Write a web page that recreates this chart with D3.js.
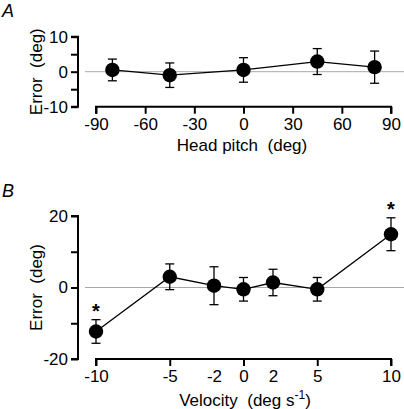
<!DOCTYPE html>
<html><head><meta charset="utf-8">
<script src="https://cdn.jsdelivr.net/npm/d3@7"></script>
<style>
body{margin:0;background:#fff;}
svg{display:block;font-family:"Liberation Sans",Arial,sans-serif;}
</style></head>
<body><svg id="c" width="404" height="409"></svg>
<script>
// Panel A data
const pitchX = [-80, -45, 0, 45, 80];
const pitchMean = [0.5, -1.0, 0.5, 2.9, 1.3];
const pitchSem = [3.1, 3.5, 3.5, 3.7, 4.6];
const pitchTicks = [-90, -60, -30, 0, 30, 60, 90];
const pitchYTicks = [-10, -5, 0, 5, 10];
const pitchYLabels = [-10, 0, 10];

// Panel B data
const velX = [-10, -5, -2, 0, 2, 5, 10];
const velMean = [-12.3, 3.0, 0.5, -0.5, 1.4, -0.5, 14.9];
const velSem = [3.3, 3.6, 5.3, 3.3, 3.7, 3.3, 4.6];
const velSig = [true, false, false, false, false, false, true];
const velTickLabels = [-10, -5, -2, 0, 2, 5, 10];
const velTickMarks = [-10, -5, 0, 5, 10];
const velYTicks = [-20, -10, 0, 10, 20];
const velYLabels = [-20, 0, 20];

const svg = d3.select("#c");
const fmt = d => (d < 0 ? "-" + Math.abs(d) : String(d));
const FS = 17;

function panel(opts) {
  const g = svg.append("g");
  const x = d3.scaleLinear().domain(opts.xDomain).range([96, 391]);
  const y = d3.scaleLinear().domain(opts.yDomain).range([opts.yBottom, opts.yTop]);
  const axisX = 78;

  // zero line
  g.append("line").attr("x1", 85).attr("x2", 404).attr("y1", y(0)).attr("y2", y(0))
    .attr("stroke", "#a8a8a8").attr("stroke-width", 1);

  // y axis
  const ya = d3.axisLeft(y).tickValues(opts.yTicks).tickSize(7).tickPadding(3)
    .tickFormat(d => opts.yLabels.includes(d) ? fmt(d) : "");
  const yg = g.append("g").attr("transform", `translate(${axisX},0)`).call(ya);
  yg.select(".domain").attr("d", `M-7,${y(opts.yDomain[1])}H0V${y(opts.yDomain[0])}H-7`);

  // x axis
  const xa = d3.axisBottom(x).tickValues(opts.xTicks).tickSize(7).tickPadding(4)
    .tickFormat(fmt);
  const xg = g.append("g").attr("transform", `translate(0,${opts.yBottom})`).call(xa);
  xg.select(".domain").attr("d", `M96,7V0H391V7`);
  if (opts.noTick) xg.selectAll(".tick").filter(d => opts.noTick.includes(d))
      .select("line").remove();

  [yg, xg].forEach(a => {
    a.selectAll("path,line").attr("stroke", "#000").attr("stroke-width", 2);
    a.selectAll("text").attr("font-size", FS).attr("fill", "#000")
      .attr("font-family", "Liberation Sans, Arial, sans-serif");
  });

  // data line
  const pts = opts.xs.map((d, i) => [d, opts.means[i], opts.sems[i]]);
  g.append("path").datum(pts)
    .attr("d", d3.line().x(d => x(d[0])).y(d => y(d[1])))
    .attr("fill", "none").attr("stroke", "#000").attr("stroke-width", 1.3);

  // error bars
  const eb = g.selectAll(".eb").data(pts).enter().append("g");
  eb.append("line").attr("x1", d => x(d[0])).attr("x2", d => x(d[0]))
    .attr("y1", d => y(d[1] + d[2])).attr("y2", d => y(d[1] - d[2]));
  eb.append("line").attr("x1", d => x(d[0]) - 4.5).attr("x2", d => x(d[0]) + 4.5)
    .attr("y1", d => y(d[1] + d[2])).attr("y2", d => y(d[1] + d[2]));
  eb.append("line").attr("x1", d => x(d[0]) - 4.5).attr("x2", d => x(d[0]) + 4.5)
    .attr("y1", d => y(d[1] - d[2])).attr("y2", d => y(d[1] - d[2]));
  eb.selectAll("line").attr("stroke", "#000").attr("stroke-width", 1.3);

  g.selectAll(".pt").data(pts).enter().append("circle")
    .attr("cx", d => x(d[0])).attr("cy", d => y(d[1])).attr("r", 7.2).attr("fill", "#000");

  if (opts.sig) {
    g.selectAll(".sig").data(pts.filter((d, i) => opts.sig[i])).enter().append("text")
      .attr("x", d => x(d[0])).attr("y", d => y(d[1] + d[2]) - 2)
      .attr("text-anchor", "middle").attr("font-size", 20).attr("font-weight", "bold")
      .text("*");
  }

  // axis titles
  const yc = (opts.yTop + opts.yBottom) / 2;
  g.append("text").attr("transform", `translate(42,${yc}) rotate(-90)`)
    .attr("text-anchor", "middle").attr("font-size", FS)
    .style("white-space", "pre").text("Error  (deg)");
  return g;
}

const gA = panel({xDomain: [-90, 90], yDomain: [-10, 10], yTop: 36.7, yBottom: 106.7,
  yTicks: pitchYTicks, yLabels: pitchYLabels, xTicks: pitchTicks,
  xs: pitchX, means: pitchMean, sems: pitchSem});
gA.append("text").attr("x", 242).attr("y", 151).attr("text-anchor", "middle")
  .attr("font-size", FS).style("white-space", "pre").text("Head pitch  (deg)");
svg.append("text").attr("x", 2).attr("y", 17).attr("font-size", 18).attr("font-style", "italic").text("A");

const gB = panel({xDomain: [-10, 10], yDomain: [-20, 20], yTop: 216, yBottom: 359,
  yTicks: velYTicks, yLabels: velYLabels, xTicks: velTickLabels, noTick: [-2, 2],
  xs: velX, means: velMean, sems: velSem, sig: velSig});
const tB = gB.append("text").attr("x", 245).attr("y", 406).attr("text-anchor", "middle")
  .attr("font-size", FS).style("white-space", "pre");
tB.append("tspan").text("Velocity  (deg s");
tB.append("tspan").attr("font-size", 12).attr("dy", -7).text("-1");
tB.append("tspan").attr("dy", 7).text(")");
svg.append("text").attr("x", 2).attr("y", 197).attr("font-size", 18).attr("font-style", "italic").text("B");
</script></body></html>
